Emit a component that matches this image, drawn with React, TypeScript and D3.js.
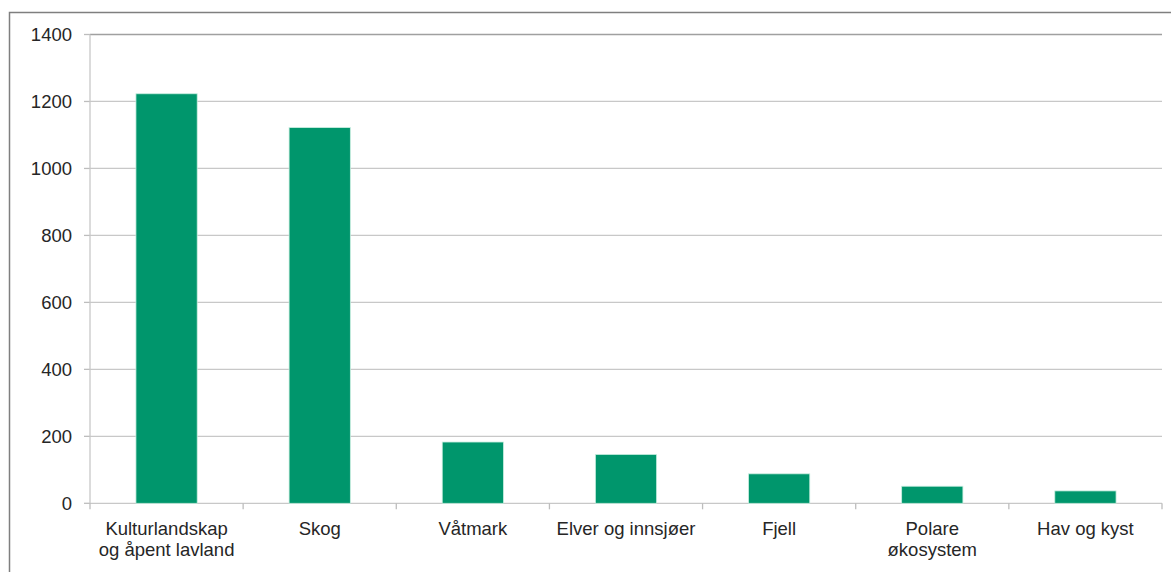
import React, { useEffect, useRef } from 'react';
import * as d3 from 'd3';

const categories: string[][] = [
    ['Kulturlandskap', 'og åpent lavland'],
    ['Skog'],
    ['Våtmark'],
    ['Elver og innsjøer'],
    ['Fjell'],
    ['Polare', 'økosystem'],
    ['Hav og kyst'],
];
const values: number[] = [1223, 1122, 183, 146, 88, 51, 37];
const yTicks: number[] = [0, 200, 400, 600, 800, 1000, 1200, 1400];

const width = 1171;
const height = 572;

const App: React.FC = () => {
    const svgRef = useRef<SVGSVGElement>(null);

    useEffect(() => {
        if (!svgRef.current) return;
        const svg = d3.select(svgRef.current);
        svg.selectAll('*').remove();

        const margin = { top: 34.5, right: 9, bottom: 68.7, left: 90 };
        const innerWidth = width - margin.left - margin.right;
        const innerHeight = height - margin.top - margin.bottom;
        const font = '"Liberation Sans", Arial, sans-serif';

        // outer frame (cut off at right and bottom)
        svg.append('path')
            .attr('d', `M9.5,${height + 2}V12.5H${width + 2}`)
            .attr('fill', 'none')
            .attr('stroke', '#7f7f7f')
            .attr('stroke-width', 1.5);

        const names = categories.map(c => c.join(' '));
        const xScale = d3.scaleBand<string>()
            .domain(names)
            .range([0, innerWidth])
            .padding(0);
        const yScale = d3.scaleLinear()
            .domain([0, 1400])
            .range([innerHeight, 0]);

        const g = svg.append('g')
            .attr('transform', `translate(${margin.left},${margin.top})`);

        // gridlines
        g.selectAll('line.grid')
            .data(yTicks)
            .enter()
            .append('line')
            .attr('x1', 0)
            .attr('x2', innerWidth)
            .attr('y1', d => yScale(d))
            .attr('y2', d => yScale(d))
            .attr('stroke', d => d === 1400 ? '#a0a0a0' : '#c8c8c8')
            .attr('stroke-width', 1.3);

        // y ticks + labels
        g.selectAll('line.ytick')
            .data(yTicks)
            .enter()
            .append('line')
            .attr('x1', -6)
            .attr('x2', 0)
            .attr('y1', d => yScale(d))
            .attr('y2', d => yScale(d))
            .attr('stroke', '#bdbdbd')
            .attr('stroke-width', 1.3);

        g.selectAll('text.ylab')
            .data(yTicks)
            .enter()
            .append('text')
            .attr('x', -18)
            .attr('y', d => yScale(d))
            .attr('dy', '0.35em')
            .attr('text-anchor', 'end')
            .attr('font-family', font)
            .attr('font-size', 18.5)
            .attr('fill', '#262626')
            .text(d => d);

        // y axis line
        g.append('line')
            .attr('x1', 0).attr('x2', 0)
            .attr('y1', 0).attr('y2', innerHeight)
            .attr('stroke', '#c8c8c8')
            .attr('stroke-width', 1.3);

        // x ticks at band edges
        const edges = names.map(n => xScale(n) ?? 0).concat([innerWidth]);
        g.selectAll('line.xtick')
            .data(edges)
            .enter()
            .append('line')
            .attr('x1', d => d).attr('x2', d => d)
            .attr('y1', innerHeight).attr('y2', innerHeight + 6)
            .attr('stroke', '#bdbdbd')
            .attr('stroke-width', 1.3);

        // bars
        const bw = xScale.bandwidth();
        g.selectAll('rect.bar')
            .data(values)
            .enter()
            .append('rect')
            .attr('x', (d, i) => (xScale(names[i]) ?? 0) + bw * 0.3)
            .attr('width', bw * 0.4)
            .attr('y', d => yScale(d))
            .attr('height', d => innerHeight - yScale(d))
            .attr('fill', '#00966c')
            .attr('stroke', '#c9eee0')
            .attr('stroke-width', 0.8);

        // x labels
        categories.forEach((lines, i) => {
            const cx = (xScale(names[i]) ?? 0) + bw / 2;
            lines.forEach((t, j) => {
                g.append('text')
                    .attr('x', cx)
                    .attr('y', innerHeight + 32 + j * 21)
                    .attr('text-anchor', 'middle')
                    .attr('font-family', font)
                    .attr('font-size', 18.5)
                    .attr('fill', '#262626')
                    .text(t);
            });
        });
    }, []);

    return (
        <svg
            ref={svgRef}
            width={width}
            height={height}
            style={{ position: 'absolute', left: 0, top: 0, background: '#fff' }}
        ></svg>
    );
};

export default App;
